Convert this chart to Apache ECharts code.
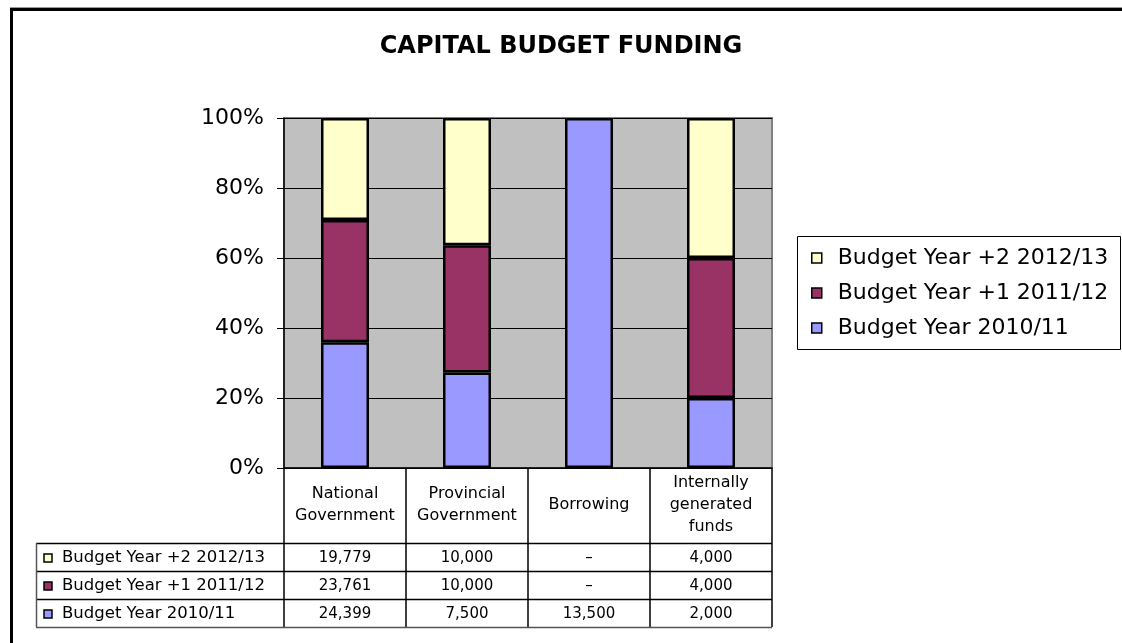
<!DOCTYPE html>
<html>
<head>
<meta charset="utf-8">
<script src="https://cdn.jsdelivr.net/npm/echarts@6/dist/echarts.min.js"></script>
<style>
  html, body { margin: 0; padding: 0; background: #fff; }
  #chart { width: 1122px; height: 643px; }
</style>
</head>
<body>
<div id="chart"></div>
<script>
// Funding sources (x categories)
const categories = ['National\nGovernment', 'Provincial\nGovernment', 'Borrowing', 'Internally\ngenerated\nfunds'];
// Budget years, bottom of stack first
const seriesNames = ['Budget Year 2010/11', 'Budget Year +1 2011/12', 'Budget Year +2 2012/13'];
// Amounts per funding source
const year2010 = [24399, 7500, 13500, 2000];
const year2011 = [23761, 10000, 0, 4000];
const year2012 = [19779, 10000, 0, 4000];
const colors = ['#9999FF', '#993366', '#FFFFCC'];

const FONT = 'DejaVu Sans';
const amounts = [year2010, year2011, year2012];
const totals = categories.map((c, i) => amounts.reduce((s, a) => s + a[i], 0));
// share of each year in a source's total; empty amounts are left out of the stack
const percent = amounts.map(a => a.map((v, i) => v === 0 ? '-' : v / totals[i] * 100));

const chart = echarts.init(document.getElementById('chart'), null, { renderer: 'canvas' });

const GRID = { left: 284, top: 118, width: 488, height: 350 };
const HEADER_H = 75;
const ROW_H = 28;

chart.setOption({
  animation: false,
  backgroundColor: '#fff',
  title: {
    text: 'CAPITAL BUDGET FUNDING',
    left: 'center',
    top: 30,
    textStyle: { fontFamily: FONT, fontSize: 24, fontWeight: 'bold', color: '#000' }
  },
  legend: {
    data: seriesNames.slice().reverse(),
    orient: 'vertical',
    left: 806,
    top: 242,
    itemGap: 13,
    icon: 'rect',
    itemWidth: 10,
    itemHeight: 10,
    itemStyle: { borderColor: '#000', borderWidth: 1.5 },
    textStyle: { fontFamily: FONT, fontSize: 22, color: '#000', padding: [0, 0, 0, 11] }
  },
  grid: {
    left: GRID.left, top: GRID.top, width: GRID.width, height: GRID.height,
    show: true, backgroundColor: '#C0C0C0', borderColor: '#808080', borderWidth: 2
  },
  xAxis: {
    type: 'category',
    data: categories,
    axisLine: { lineStyle: { color: '#000', width: 1.5 } },
    axisTick: { show: true, interval: 0, length: HEADER_H + ROW_H * 3, lineStyle: { color: '#000', width: 1.5 } },
    axisLabel: {
      interval: 0, margin: 37, verticalAlign: 'middle',
      fontFamily: FONT, fontSize: 16, lineHeight: 22, color: '#000'
    }
  },
  yAxis: {
    type: 'value',
    min: 0, max: 100, interval: 20,
    axisLine: { show: true, lineStyle: { color: '#000', width: 1.5 } },
    axisTick: { show: true, length: 7, lineStyle: { color: '#000' } },
    axisLabel: { formatter: '{value}%', margin: 20, fontFamily: FONT, fontSize: 22, color: '#000' },
    splitLine: { lineStyle: { color: '#000', width: 1 } }
  },
  series: seriesNames.map((name, k) => ({
    name,
    type: 'bar',
    stack: 'share',
    barWidth: 48,
    data: percent[k],
    itemStyle: { color: colors[k], borderColor: '#000', borderWidth: 2.5 }
  }))
});

// Data table under the plot: row lines, row labels and the amounts
const tableTop = GRID.top + GRID.height + HEADER_H;
const tableLeft = 36;
const tableRight = GRID.left + GRID.width;
const tableRows = seriesNames.slice().reverse().map((name, r) => ({
  name,
  color: colors[seriesNames.length - 1 - r],
  values: amounts[seriesNames.length - 1 - r]
}));

const g = [];
// outer chart frame
g.push({ type: 'rect', shape: { x: 11.5, y: 9.5, width: 1300, height: 800 },
  style: { fill: 'none', stroke: '#000', lineWidth: 3 }, z: 10 });
g.push({ type: 'line', shape: { x1: 10, y1: 7.5, x2: 1122, y2: 7.5 },
  style: { stroke: '#9a9a9a', lineWidth: 1 }, z: 10 });
// legend frame
g.push({ type: 'rect', shape: { x: 797.5, y: 236.5, width: 323, height: 113 },
  style: { fill: 'none', stroke: '#000', lineWidth: 1 }, z: 10 });

for (let r = 0; r <= tableRows.length; r++) {
  const y = tableTop + r * ROW_H + 0.5;
  g.push({ type: 'line', shape: { x1: tableLeft, y1: y, x2: tableRight, y2: y },
    style: { stroke: r === tableRows.length ? '#555' : '#000', lineWidth: 1.5 }, z: 10 });
}
g.push({ type: 'line', shape: { x1: tableLeft + 0.5, y1: tableTop, x2: tableLeft + 0.5, y2: tableTop + ROW_H * tableRows.length },
  style: { stroke: '#555', lineWidth: 1.5 }, z: 10 });

tableRows.forEach((row, r) => {
  const cy = tableTop + r * ROW_H + ROW_H / 2 + 1;
  g.push({ type: 'rect', shape: { x: 44, y: cy - 4, width: 8, height: 8 },
    style: { fill: row.color, stroke: '#000', lineWidth: 1.5 }, z: 11 });
  g.push({ type: 'text', x: 62, y: cy,
    style: { text: row.name, fontFamily: FONT, fontSize: 16.5, fill: '#000', verticalAlign: 'middle', align: 'left' }, z: 11 });
  row.values.forEach((v, i) => {
    const px = chart.convertToPixel({ xAxisIndex: 0 }, i);
    g.push({ type: 'text', x: px, y: cy,
      style: { text: v === 0 ? '\u2013' : v.toLocaleString('en-US'), fontFamily: FONT, fontSize: 15,
        fill: '#000', align: 'center', verticalAlign: 'middle' }, z: 11 });
  });
});

chart.setOption({ graphic: g });
</script>
</body>
</html>
